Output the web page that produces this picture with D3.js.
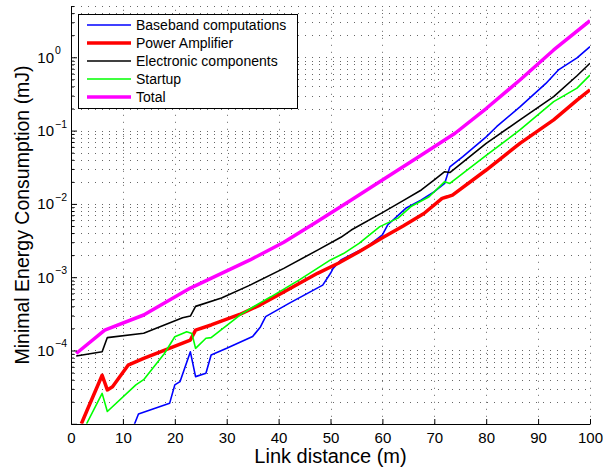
<!DOCTYPE html>
<html>
<head>
<meta charset="utf-8">
<script src="https://cdn.jsdelivr.net/npm/d3@7"></script>
<style>
body { margin: 0; background: #fff; }
svg { font-family: "Liberation Sans", Arial, Helvetica, sans-serif; }
</style>
</head>
<body>
<svg id="drawing_region"></svg>
<script>
// tick values
const xTicks = [0, 10, 20, 30, 40, 50, 60, 70, 80, 90, 100];
const yLabelExponents = [-4, -3, -2, -1, 0];

// series (link distance in m, energy in mJ)
const basebandX = [12, 13, 19, 20, 21, 23, 24, 26, 27, 30, 35, 36.5, 37.5, 42, 48.5, 50, 50.5, 52, 57, 60, 61, 64.5, 67.5, 70, 72, 73, 75.5, 80, 82, 86.5, 91.5, 94, 97.5, 100];
const basebandY = [9e-6, 1.36e-5, 1.9e-5, 3.4e-5, 3.76e-5, 9.6e-5, 4.4e-5, 4.9e-5, 8.7e-5, 1.07e-4, 1.55e-4, 2.1e-4, 2.9e-4, 4.4e-4, 7.8e-4, 1.13e-3, 1.32e-3, 1.72e-3, 2.6e-3, 3.77e-3, 5.15e-3, 8.7e-3, 0.0113, 0.0147, 0.019, 0.032, 0.044, 0.082, 0.113, 0.211, 0.44, 0.68, 0.98, 1.4];

const ampX = [2, 3, 6, 7, 8, 11, 14, 23, 24, 27, 32.5, 36.5, 41, 47.5, 51.5, 55.5, 60, 64, 68, 71.5, 72.5, 73.5, 80, 86.5, 93, 97.5, 100];
const ampY = [1e-5, 1.47e-5, 4.6e-5, 2.9e-5, 3.2e-5, 6.3e-5, 7.8e-5, 1.39e-4, 1.9e-4, 2.23e-4, 3.1e-4, 4.2e-4, 6.3e-4, 1.13e-3, 1.55e-3, 2.23e-3, 3.46e-3, 5.0e-3, 7.4e-3, 0.0119, 0.0125, 0.0132, 0.029, 0.067, 0.14, 0.26, 0.36];

const elecX = [1, 6, 7, 14, 21.5, 23, 24, 29, 34.5, 41, 47.5, 52, 54, 60, 64, 67.5, 70, 72, 73, 80, 86.5, 93, 97.5, 100];
const elecY = [8.4e-5, 9.6e-5, 1.5e-4, 1.72e-4, 2.8e-4, 2.95e-4, 4.0e-4, 5.2e-4, 7.8e-4, 1.32e-3, 2.34e-3, 3.5e-3, 4.4e-3, 7.6e-3, 0.0111, 0.0155, 0.0212, 0.0275, 0.0268, 0.067, 0.14, 0.29, 0.56, 0.83];

const startX = [3, 6, 7, 12.5, 14, 18, 20, 22.3, 23.3, 24, 26, 27, 33, 36.5, 38.5, 44, 50, 52.5, 55.5, 59.5, 63, 65.5, 69, 72, 73, 75.5, 80, 86.5, 93, 97.5, 100];
const startY = [1e-5, 2.6e-5, 1.47e-5, 3.4e-5, 4.0e-5, 9.1e-5, 1.54e-4, 1.8e-4, 1.71e-4, 1.07e-4, 1.47e-4, 1.5e-4, 3.2e-4, 4.5e-4, 5.4e-4, 9.2e-4, 1.72e-3, 2.1e-3, 2.9e-3, 4.9e-3, 6.4e-3, 9.2e-3, 0.0125, 0.0201, 0.019, 0.026, 0.046, 0.102, 0.248, 0.38, 0.57];

const totalX = [1, 6.5, 14, 23, 34.5, 41, 47, 54, 60, 67, 74, 80, 86.5, 93, 100];
const totalY = [9.1e-5, 1.9e-4, 3.05e-4, 7.1e-4, 1.72e-3, 3.0e-3, 5.5e-3, 0.0113, 0.0212, 0.044, 0.092, 0.2, 0.49, 1.26, 3.16];

const seriesNames = ["Baseband computations", "Power Amplifier", "Electronic components", "Startup", "Total"];

const series = [
    { name: seriesNames[0], xs: basebandX, ys: basebandY, color: "#0000ff", width: 1.6 },
    { name: seriesNames[1], xs: ampX, ys: ampY, color: "#ff0000", width: 3.5 },
    { name: seriesNames[2], xs: elecX, ys: elecY, color: "#000000", width: 1.6 },
    { name: seriesNames[3], xs: startX, ys: startY, color: "#00ff00", width: 1.6 },
    { name: seriesNames[4], xs: totalX, ys: totalY, color: "#ff00ff", width: 3.5 }
];

const config = {
    parent: '#drawing_region',
    width: 603,
    height: 470,
    left: 71, right: 590,
    top: 6.06, bottom: 423.8
};

const svg = d3.select(config.parent)
    .attr("width", config.width)
    .attr("height", config.height);

const xscale = d3.scaleLinear().domain([0, 100]).range([config.left, config.right]);
const yscale = d3.scaleLog().domain([1e-5, 5]).range([config.bottom, config.top]);

// grid values: 1..9 x 10^k up to the top limit
const gridValues = [];
for (let k = -5; k <= 0; k++) {
    for (let m = 1; m <= 9; m++) {
        const v = m * Math.pow(10, k);
        if (v <= 5.0001) gridValues.push(v);
    }
}
const isMajor = v => Math.abs(Math.log10(v) - Math.round(Math.log10(v))) < 1e-9;

// grid
const grid = svg.append("g")
    .attr("stroke", "#666")
    .attr("stroke-width", 1)
    .attr("stroke-dasharray", "1,6");

grid.selectAll(".hgrid")
    .data(gridValues.filter(v => v > 1e-5))
    .enter()
    .append("line")
    .attr("x1", config.left + 3)
    .attr("x2", config.right)
    .attr("y1", d => Math.round(yscale(d)) + 0.5)
    .attr("y2", d => Math.round(yscale(d)) + 0.5);

grid.selectAll(".vgrid")
    .data(xTicks.filter(d => d > 0))
    .enter()
    .append("line")
    .attr("x1", d => Math.round(xscale(d)) + 0.5)
    .attr("x2", d => Math.round(xscale(d)) + 0.5)
    .attr("y1", config.bottom)
    .attr("y2", config.top);

// lines
svg.append("clipPath")
    .attr("id", "plotclip")
    .append("rect")
    .attr("x", config.left)
    .attr("y", config.top)
    .attr("width", config.right - config.left)
    .attr("height", config.bottom - config.top);

const line = d3.line()
    .x(d => xscale(d[0]))
    .y(d => yscale(d[1]));

svg.append("g")
    .attr("clip-path", "url(#plotclip)")
    .selectAll("path")
    .data(series)
    .enter()
    .append("path")
    .attr("d", s => line(s.xs.map((x, i) => [x, s.ys[i]])))
    .attr("fill", "none")
    .attr("stroke", s => s.color)
    .attr("stroke-width", s => s.width)
    .attr("stroke-linejoin", "round");

// axes
const xaxis_group = svg.append("g")
    .attr("transform", `translate(0, ${Math.round(config.bottom)})`);
xaxis_group.call(d3.axisBottom(xscale)
    .tickValues(xTicks)
    .tickSizeInner(-5)
    .tickSizeOuter(0)
    .tickPadding(8)
    .tickFormat(d3.format("d")));
xaxis_group.selectAll("text")
    .attr("font-size", 15)
    .attr("font-family", "Liberation Sans, Arial, sans-serif")
    .attr("fill", "#000");

const yaxis_group = svg.append("g")
    .attr("transform", `translate(${config.left}, 0)`);
yaxis_group.call(d3.axisLeft(yscale)
    .tickValues(gridValues)
    .tickSizeOuter(0)
    .tickFormat(""));
yaxis_group.selectAll(".tick line")
    .attr("x2", d => isMajor(d) ? 6 : 3);

svg.selectAll(".domain").attr("stroke", "#000");
svg.selectAll(".tick line").attr("stroke", "#000");

// y tick labels as 10^k
const ylabels = svg.append("g")
    .attr("font-size", 15)
    .attr("fill", "#000");
ylabels.selectAll(".base")
    .data(yLabelExponents)
    .enter()
    .append("text")
    .attr("x", 54)
    .attr("y", d => yscale(Math.pow(10, d)) + 5.5)
    .attr("text-anchor", "end")
    .text("10");
ylabels.selectAll(".exp")
    .data(yLabelExponents)
    .enter()
    .append("text")
    .attr("x", 55)
    .attr("y", d => yscale(Math.pow(10, d)) - 3)
    .attr("font-size", 10.5)
    .text(d => d < 0 ? "\u2212" + (-d) : String(d));

// axis titles
svg.append("text")
    .attr("x", (config.left + config.right) / 2)
    .attr("y", 463)
    .attr("text-anchor", "middle")
    .attr("font-size", 20)
    .text("Link distance (m)");

svg.append("text")
    .attr("transform", `translate(29, ${(config.top + config.bottom) / 2}) rotate(-90)`)
    .attr("text-anchor", "middle")
    .attr("font-size", 19.5)
    .text("Minimal Energy Consumption (mJ)");

// legend
const legend = svg.append("g");
legend.append("rect")
    .attr("x", 78.5)
    .attr("y", 14.5)
    .attr("width", 219)
    .attr("height", 94)
    .attr("fill", "#fff")
    .attr("stroke", "#000")
    .attr("stroke-width", 1);

const items = legend.selectAll(".item")
    .data(series)
    .enter()
    .append("g")
    .attr("transform", (d, i) => `translate(0, ${25 + i * 18})`);
items.append("line")
    .attr("x1", 87).attr("x2", 131)
    .attr("stroke", d => d.color)
    .attr("stroke-width", d => d.width);
items.append("text")
    .attr("x", 136)
    .attr("y", 5)
    .attr("font-size", 14)
    .text(d => d.name);
</script>
</body>
</html>
